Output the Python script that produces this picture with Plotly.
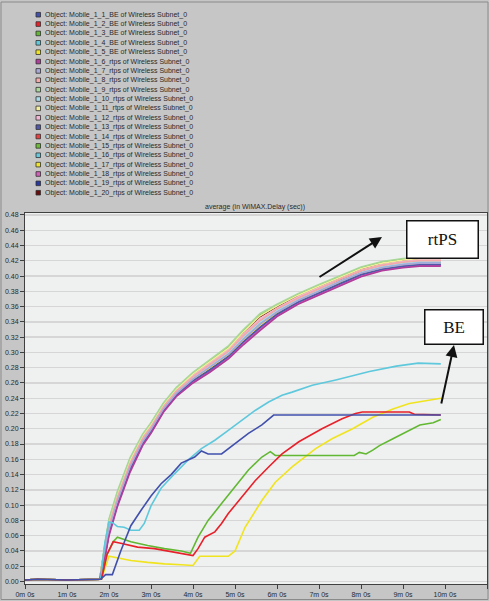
import plotly.graph_objects as go

# ---------------- data ----------------
X_TICK_VALS = [0, 1, 2, 3, 4, 5, 6, 7, 8, 9, 10, 11]
X_TICK_TEXT = ["0m 0s", "1m 0s", "2m 0s", "3m 0s", "4m 0s", "5m 0s", "6m 0s",
               "7m 0s", "8m 0s", "9m 0s", "10m 0s", "11m 0s"]
Y_TICK_VALS = [0.00, 0.02, 0.04, 0.06, 0.08, 0.10, 0.12, 0.14, 0.16, 0.18, 0.20, 0.22,
               0.24, 0.26, 0.28, 0.30, 0.32, 0.34, 0.36, 0.38, 0.40, 0.42, 0.44, 0.46, 0.48]
Y_TICK_TEXT = ["%.2f" % v for v in Y_TICK_VALS]

NAMES = ["Object: Mobile_1_%d_%s of Wireless Subnet_0" % (i, "BE" if i <= 5 else "rtps")
         for i in range(1, 21)]
COLORS = ["#4050ac", "#e8202a", "#62b832", "#5ec8dc", "#f0e41e",
          "#b03c9c", "#a8a8d8", "#f4a8a8", "#a8d898", "#a8dce8",
          "#f2ee9c", "#f4b4d4", "#5058a8", "#e84040", "#6cbc38",
          "#64c8dc", "#f0e428", "#d060b8", "#2838a0", "#6a0c0c"]

# BE series (time in minutes, delay in sec)
BE1_T = [0, 0.3, 1.0, 1.8, 1.92, 2.08, 2.28, 2.52, 2.76, 3.0, 3.24, 3.48, 3.72, 4.04, 4.2,
         4.36, 4.68, 5.0, 5.32, 5.64, 5.92, 9.9]
BE1_Y = [.002, .003, .002, .003, .009, .009, .040, .073, .093, .112, .128, .140, .155, .163, .171,
         .167, .167, .181, .194, .205, .218, .218]

BE2_T = [0, 0.3, 1.0, 1.82, 1.95, 2.1, 2.28, 2.68, 3.08, 3.48, 3.72, 4.0, 4.12, 4.28, 4.52,
         4.68, 4.84, 5.16, 5.48, 5.8, 6.12, 6.52, 7.07, 7.55, 7.87, 8.03, 9.15, 9.27, 9.9]
BE2_Y = [.002, .003, .002, .003, .035, .052, .050, .045, .043, .039, .036, .034, .043, .058, .065,
         .076, .089, .110, .132, .150, .167, .183, .200, .213, .220, .222, .222, .219, .218]

BE3_T = [0, 0.3, 1.0, 1.82, 1.95, 2.1, 2.2, 2.52, 2.92, 3.32, 3.72, 3.94, 4.12, 4.36, 4.68,
         5.0, 5.32, 5.64, 5.84, 5.96, 7.84, 7.96, 8.12, 8.28, 8.44, 8.76, 9.08, 9.4, 9.72, 9.9]
BE3_Y = [.002, .003, .002, .003, .035, .052, .058, .052, .047, .043, .040, .037, .058, .080, .102,
         .124, .146, .163, .170, .165, .165, .169, .167, .172, .178, .187, .196, .205, .208, .212]

BE4_T = [0, 0.3, 1.0, 1.8, 1.9, 2.0, 2.08, 2.2, 2.36, 2.52, 2.72, 2.84, 3.0, 3.24, 3.56,
         3.88, 4.2, 4.52, 4.84, 5.16, 5.48, 5.8, 6.12, 6.36, 6.84, 7.4, 8.2, 8.84, 9.36, 9.9]
BE4_Y = [.002, .003, .002, .003, .050, .078, .077, .072, .071, .067, .067, .076, .099, .122, .141,
         .159, .174, .185, .198, .211, .224, .235, .244, .248, .257, .264, .275, .282, .286, .285]

BE5_T = [0, 0.3, 1.0, 1.82, 2.0, 2.52, 2.92, 3.32, 3.72, 4.0, 4.16, 4.84, 5.0, 5.24, 5.64,
         5.96, 6.36, 6.92, 7.31, 7.8, 8.28, 8.76, 9.15, 9.55, 9.9]
BE5_Y = [.002, .003, .002, .003, .033, .0275, .025, .023, .022, .021, .033, .033, .040, .071, .106,
         .130, .150, .174, .187, .200, .215, .226, .233, .237, .240]

# rtPS series share one time grid
RT_T = [0, 0.3, 1.0, 1.78, 1.9, 2.0, 2.2, 2.5, 2.8, 3.0, 3.3, 3.6, 4.0, 4.4, 4.85, 5.2,
        5.6, 6.0, 6.5, 7.0, 7.5, 8.0, 8.5, 9.0, 9.4, 9.9]
RT6 = [.002, .003, .002, .003, .030, .060, .098, .143, .178, .194, .222, .242, .260, .274, .292, .310,
       .329, .347, .363, .375, .388, .399, .407, .411, .413, .413]
RT7 = [.002, .003, .002, .003, .036, .068, .105, .150, .183, .199, .226, .246, .265, .280, .298, .317,
       .337, .353, .368, .380, .393, .404, .411, .415, .417, .417]
RT8 = [.002, .003, .002, .003, .041, .073, .110, .154, .187, .202, .229, .249, .268, .284, .302, .322,
       .342, .357, .371, .383, .396, .407, .414, .418, .420, .420]
RT9 = [.002, .003, .002, .003, .048, .082, .118, .162, .193, .208, .234, .254, .274, .291, .309, .330,
       .351, .363, .377, .389, .401, .412, .419, .423, .425, .425]
RT10 = [.002, .003, .002, .003, .039, .071, .108, .152, .185, .201, .228, .248, .267, .282, .300, .320,
        .340, .355, .370, .382, .394, .405, .413, .417, .419, .419]
RT11 = [.002, .003, .002, .003, .045, .079, .115, .159, .191, .206, .232, .252, .272, .288, .306, .327,
        .348, .361, .375, .387, .399, .410, .417, .421, .423, .423]
RT12 = [.002, .003, .002, .003, .043, .075, .112, .156, .188, .204, .230, .250, .270, .286, .304, .324,
        .344, .358, .373, .385, .397, .408, .415, .419, .421, .421]
RT13 = [.002, .003, .002, .003, .034, .064, .102, .147, .181, .197, .224, .244, .263, .277, .295, .314,
        .333, .350, .366, .378, .391, .402, .409, .413, .415, .415]
RT14 = [.002, .003, .002, .003, .040, .072, .109, .153, .186, .202, .229, .249, .268, .283, .301, .321,
        .341, .356, .371, .383, .395, .406, .414, .418, .420, .420]
RT15 = [.002, .003, .002, .003, .046, .080, .116, .160, .191, .207, .233, .253, .273, .289, .307, .328,
        .349, .361, .376, .388, .400, .411, .418, .422, .424, .424]
RT16 = [.002, .003, .002, .003, .037, .069, .106, .151, .184, .200, .227, .247, .266, .281, .299, .318,
        .338, .353, .369, .381, .393, .404, .412, .416, .418, .418]
RT17 = [.002, .003, .002, .003, .035, .067, .104, .149, .182, .198, .226, .246, .264, .279, .297, .316,
        .336, .352, .367, .379, .392, .403, .411, .415, .417, .417]
RT18 = [.002, .003, .002, .003, .031, .062, .100, .145, .179, .195, .223, .243, .261, .275, .293, .312,
        .331, .348, .364, .376, .389, .400, .408, .412, .414, .414]
RT19 = [.002, .003, .002, .003, .033, .063, .101, .146, .180, .196, .224, .244, .262, .277, .295, .313,
        .332, .349, .365, .377, .390, .401, .409, .413, .415, .415]
RT20 = [.002, .003, .002, .003, .044, .078, .114, .158, .190, .205, .232, .252, .271, .288, .306, .326,
        .347, .360, .374, .386, .398, .409, .417, .421, .423, .423]

SERIES = [(BE1_T, BE1_Y), (BE2_T, BE2_Y), (BE3_T, BE3_Y), (BE4_T, BE4_Y), (BE5_T, BE5_Y),
          (RT_T, RT6), (RT_T, RT7), (RT_T, RT8), (RT_T, RT9), (RT_T, RT10),
          (RT_T, RT11), (RT_T, RT12), (RT_T, RT13), (RT_T, RT14), (RT_T, RT15),
          (RT_T, RT16), (RT_T, RT17), (RT_T, RT18), (RT_T, RT19), (RT_T, RT20)]

TITLE = "average (in WiMAX.Delay (sec))"

# ---------------- layout constants (pixels) ----------------
W, H = 489, 601
ML, MR, MT, MB = 25, 2, 213, 17
PW, PH = W - ML - MR, H - MT - MB
FONT = "Liberation Sans, Arial, sans-serif"
TXT = "#2a2a2a"


def px_x(px):
    return (px - ML) / PW


def px_y(py):
    return 1 - (py - MT) / PH


fig = go.Figure()
for i in reversed(range(len(SERIES))):
    t, y = SERIES[i]
    fig.add_trace(go.Scatter(x=t, y=y, mode="lines", name=NAMES[i],
                             line=dict(color=COLORS[i], width=1.6),
                             showlegend=False, hoverinfo="skip"))

shapes = []
annotations = []

# custom legend (square swatches + text)
for i, name in enumerate(NAMES):
    cy = 14.7 + 9.37 * i
    shapes.append(dict(type="rect", xref="paper", yref="paper",
                       x0=px_x(36), x1=px_x(40.5), y0=px_y(cy + 2.3), y1=px_y(cy - 2.3),
                       fillcolor=COLORS[i], line=dict(color="#303030", width=0.8)))
    annotations.append(dict(xref="paper", yref="paper", x=px_x(43), y=px_y(cy),
                            text=name, showarrow=False, xanchor="left", yanchor="middle",
                            font=dict(family=FONT, size=7, color=TXT)))

# chart title
annotations.append(dict(xref="paper", yref="paper", x=px_x(255), y=px_y(207),
                        text=TITLE, showarrow=False, xanchor="center", yanchor="middle",
                        font=dict(family=FONT, size=7, color=TXT)))

# outer frame
shapes.append(dict(type="rect", xref="paper", yref="paper",
                   x0=px_x(1), x1=px_x(488), y0=px_y(599.5), y1=px_y(2),
                   line=dict(color="#8a8a8a", width=1), fillcolor="rgba(0,0,0,0)", layer="below"))

# rtPS / BE labelled boxes and arrows
annotations.append(dict(x=8.5, y=0.4512, xref="x", yref="y", ax=-64, ay=41, text="",
                        showarrow=True, arrowhead=2, arrowsize=1.2, arrowwidth=2,
                        arrowcolor="#111111"))
annotations.append(dict(x=10.214, y=0.3097, xref="x", yref="y", ax=-13, ay=60, text="",
                        showarrow=True, arrowhead=2, arrowsize=1.2, arrowwidth=2,
                        arrowcolor="#111111"))
annotations.append(dict(x=9.93, y=0.4485, xref="x", yref="y", text="rtPS", showarrow=False,
                        width=70, height=36, bgcolor="white", bordercolor="#111111",
                        borderwidth=1.5, borderpad=0,
                        font=dict(family="Liberation Serif, Times New Roman, serif",
                                  size=17, color="#111111")))
annotations.append(dict(x=10.226, y=0.3339, xref="x", yref="y", text="BE", showarrow=False,
                        width=57, height=33, bgcolor="white", bordercolor="#111111",
                        borderwidth=1.5, borderpad=0,
                        font=dict(family="Liberation Serif, Times New Roman, serif",
                                  size=17, color="#111111")))

fig.update_layout(
    width=W, height=H, autosize=False,
    margin=dict(l=ML, r=MR, t=MT, b=MB, pad=0),
    paper_bgcolor="#c6c6c6", plot_bgcolor="#eff0f0",
    showlegend=False,
    shapes=shapes, annotations=annotations,
    font=dict(family=FONT, size=7, color=TXT),
    xaxis=dict(range=[0, 11], tickvals=X_TICK_VALS, ticktext=X_TICK_TEXT,
               ticks="outside", ticklen=4, tickcolor="#404040", showgrid=False,
               showline=True, linecolor="#404040", linewidth=1, mirror=True,
               zeroline=False, automargin=False, fixedrange=True,
               tickfont=dict(family=FONT, size=7, color=TXT)),
    yaxis=dict(range=[-0.0033, 0.4826], tickvals=Y_TICK_VALS, ticktext=Y_TICK_TEXT,
               ticks="outside", ticklen=4, tickcolor="#404040", showgrid=True,
               gridcolor="#d6d6d6", gridwidth=1.4,
               showline=True, linecolor="#404040", linewidth=1, mirror=True,
               zeroline=False, automargin=False, fixedrange=True,
               tickfont=dict(family=FONT, size=7, color=TXT)),
)

fig.write_html("out.html", config={"displayModeBar": False, "staticPlot": True},
               post_script="document.body.style.margin='0';document.body.style.overflow='hidden';")
